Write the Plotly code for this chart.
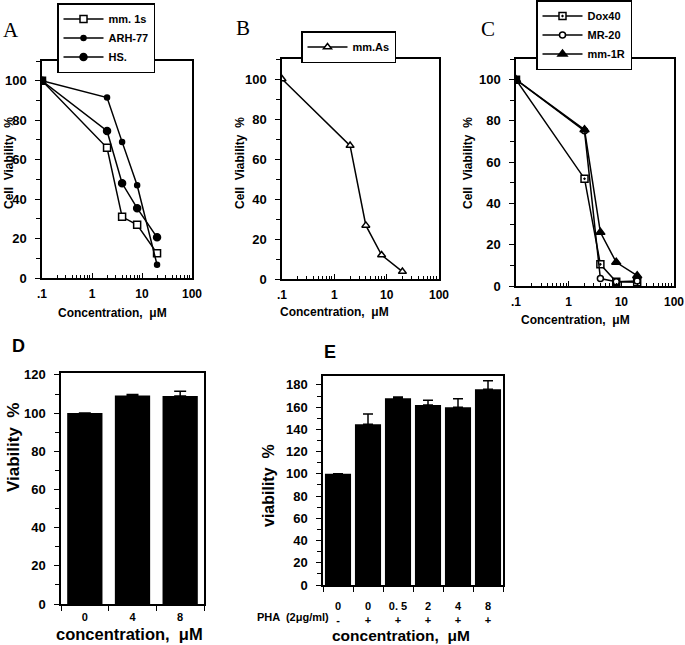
import plotly.graph_objects as go

W, H = 685, 645

# ---------------- data ----------------
conc = [0.1, 2, 4, 8, 20]
a_mm1s = [100, 66, 31, 27, 12.5]
a_arh77 = [100, 91.5, 69, 47, 6.7]
a_hs = [100, 74.5, 48, 35.4, 20.6]
b_mmas = [100, 66.7, 26.8, 12, 3.7]
c_dox40 = [100, 52, 10.5, 2.1, 1.8]
c_mr20 = [100, 75.2, 3.6, 2.1, 2.4]
c_mm1r = [100, 75.7, 26, 11.5, 5]

log_tickvals = [0.1, 1, 10, 100]
log_ticktext = [".1", "1", "10", "100"]

d_conc = ["0", "4", "8"]
d_vals = [100, 109.2, 109]
d_err = [0, 0.6, 2.5]

e_conc = ["0", "0", "0. 5", "2", "4", "8"]
e_pha = ["-", "+", "+", "+", "+", "+"]
e_vals = [100, 144.6, 168, 162, 160, 176]
e_err = [0, 9.3, 1.2, 4.2, 7.5, 7.8]

# ---------------- helpers ----------------
def dx(x0, x1):
    return [x0 / W, x1 / W]

def dy(top, bottom):
    return [1 - bottom / H, 1 - top / H]

SANS = "Liberation Sans, Arial, sans-serif"
SERIF = "Liberation Serif, Times New Roman, serif"
ytickfont = dict(family=SANS, size=13, color="black", weight="bold")
xtickfont = dict(family=SANS, size=12, color="black", weight="bold")

fig = go.Figure()

def line_trace(x, y, name, symbol, size, fill, xa, ya, legend):
    return go.Scatter(
        x=x, y=y, name=name, mode="lines+markers",
        line=dict(color="black", width=1.5),
        marker=dict(symbol=symbol, size=size, color=fill,
                    line=dict(color="black", width=1.5)),
        xaxis=xa, yaxis=ya, legend=legend,
    )

fig.add_trace(line_trace(conc, a_mm1s, "mm. 1s", "square", 7, "white", "x", "y", "legend"))
fig.add_trace(line_trace(conc, a_arh77, "ARH-77", "circle", 5, "black", "x", "y", "legend"))
fig.add_trace(line_trace(conc, a_hs, "HS.", "circle", 7, "black", "x", "y", "legend"))
fig.add_trace(line_trace(conc, b_mmas, "mm.As", "triangle-up", 7, "white", "x2", "y2", "legend2"))
fig.add_trace(line_trace(conc, c_dox40, "Dox40", "square-dot", 7, "white", "x3", "y3", "legend3"))
fig.add_trace(line_trace(conc, c_mr20, "MR-20", "circle", 6, "white", "x3", "y3", "legend3"))
fig.add_trace(line_trace(conc, c_mm1r, "mm-1R", "triangle-up", 8, "black", "x3", "y3", "legend3"))

fig.add_trace(go.Bar(
    x=d_conc, y=d_vals, marker=dict(color="black", line=dict(width=0)),
    error_y=dict(type="data", symmetric=False, array=d_err, arrayminus=[0] * len(d_err),
                 color="black", thickness=1.5, width=6),
    xaxis="x4", yaxis="y4", showlegend=False, width=0.74,
))
e_cats = [f"{c}<br>{p}" for c, p in zip(e_conc, e_pha)]
fig.add_trace(go.Bar(
    x=e_cats, y=e_vals, marker=dict(color="black", line=dict(width=0)),
    error_y=dict(type="data", symmetric=False, array=e_err, arrayminus=[0] * len(e_err),
                 color="black", thickness=1.5, width=5),
    xaxis="x5", yaxis="y5", showlegend=False, width=0.87,
))

def log_x(domain, anchor):
    return dict(
        type="log", range=[-1, 2], domain=domain, anchor=anchor, automargin=False,
        tickvals=log_tickvals, ticktext=log_ticktext, ticklabeloverflow="allow",
        ticks="inside", ticklen=5, tickwidth=1.2, tickcolor="black",
        minor=dict(dtick="D1", ticks="inside", ticklen=3, tickwidth=1, tickcolor="black"),
        showline=True, linecolor="black", linewidth=1.5, mirror=True,
        showgrid=False, zeroline=False, tickfont=xtickfont, ticklabelstandoff=4,
    )

def lin_y(domain, anchor, rng, dtick, minor):
    return dict(
        range=rng, domain=domain, anchor=anchor, dtick=dtick, tick0=0, automargin=False,
        ticks="outside", ticklen=5, tickwidth=1.2, tickcolor="black",
        minor=dict(dtick=minor, tick0=0, ticks="outside", ticklen=4, tickwidth=1, tickcolor="black"),
        showline=True, linecolor="black", linewidth=1.5, mirror=True,
        showgrid=False, zeroline=False, tickfont=ytickfont, ticklabelstandoff=6,
    )

def cat_x(domain, anchor, font, standoff):
    return dict(
        type="category", domain=domain, anchor=anchor, automargin=False,
        ticks="outside", ticklen=5, tickwidth=1.2, tickcolor="black", tickson="boundaries",
        showline=True, linecolor="black", linewidth=1.5, mirror=True,
        showgrid=False, zeroline=False, tickfont=font, ticklabelstandoff=standoff,
    )

fig.update_layout(
    template="none",
    width=W, height=H, autosize=False,
    margin=dict(l=0, r=0, t=0, b=0, autoexpand=False),
    paper_bgcolor="white", plot_bgcolor="white",
    bargap=0.13,
    xaxis=log_x(dx(42, 192), "y"),
    yaxis=lin_y(dy(61, 278), "x", [0, 110], 20, 10),
    xaxis2=log_x(dx(282, 439), "y2"),
    yaxis2=lin_y(dy(59, 279), "x2", [0, 110], 20, 10),
    xaxis3=log_x(dx(516, 674), "y3"),
    yaxis3=lin_y(dy(59, 286), "x3", [0, 110], 20, 10),
    xaxis4=cat_x(dx(61, 204), "y4", dict(family=SANS, size=11, color="black", weight="bold"), 2),
    yaxis4=lin_y(dy(373, 604), "x4", [0, 121], 20, 10),
    xaxis5=cat_x(dx(323, 503), "y5", dict(family=SANS, size=11, color="black", weight="bold"), 10),
    yaxis5=lin_y(dy(376, 585), "x5", [0, 188], 20, 10),
)

legend_common = dict(
    bgcolor="white", bordercolor="black", borderwidth=1.5,
    font=dict(family=SANS, size=11, color="black", weight="bold"),
    xanchor="left", yanchor="top", itemwidth=40, tracegroupgap=0,
    entrywidthmode="pixels",
)
fig.update_layout(
    legend=dict(x=57 / W, y=1 - 3 / H, entrywidth=88, **legend_common),
    legend2=dict(x=301 / W, y=1 - 31 / H, entrywidth=83, **legend_common),
    legend3=dict(x=536 / W, y=1 - 0 / H, entrywidth=84, **legend_common),
)

ann = []
def add_text(x, y, text, size, family=SANS, bold=True, angle=0, xanchor="center"):
    ann.append(dict(
        x=x / W, y=1 - y / H, xref="paper", yref="paper", text=text, showarrow=False,
        textangle=angle, xanchor=xanchor, yanchor="middle",
        font=dict(family=family, size=size, color="black", weight="bold" if bold else "normal"),
    ))

# panel letters
add_text(11, 30, "A", 21, SERIF, bold=False)
add_text(243, 28, "B", 21, SERIF, bold=False)
add_text(488, 29, "C", 21, SERIF, bold=False)
add_text(18, 346, "D", 18)
add_text(330, 352, "E", 18)

# axis titles
for cx in (9, 240, 468):
    add_text(cx, 163, "Cell  Viability  %", 12, angle=-90)
add_text(112, 313, "Concentration,  μM", 12)
add_text(334, 312, "Concentration,  μM", 12)
add_text(575, 320, "Concentration,  μM", 12)
add_text(13, 448, "Viability  %", 17, angle=-90)
add_text(129, 634, "concentration,  μM", 16.5)
add_text(268, 486, "viability  %", 16, angle=-90)
add_text(401, 635, "concentration,  μM", 15.5)
add_text(331, 617, "PHA  (2μg/ml)", 11, xanchor="right")

fig.update_layout(annotations=ann)

fig.write_html(
    "out.html",
    config={"displayModeBar": False},
    post_script="document.body.style.margin='0';document.body.style.overflow='hidden';",
)
